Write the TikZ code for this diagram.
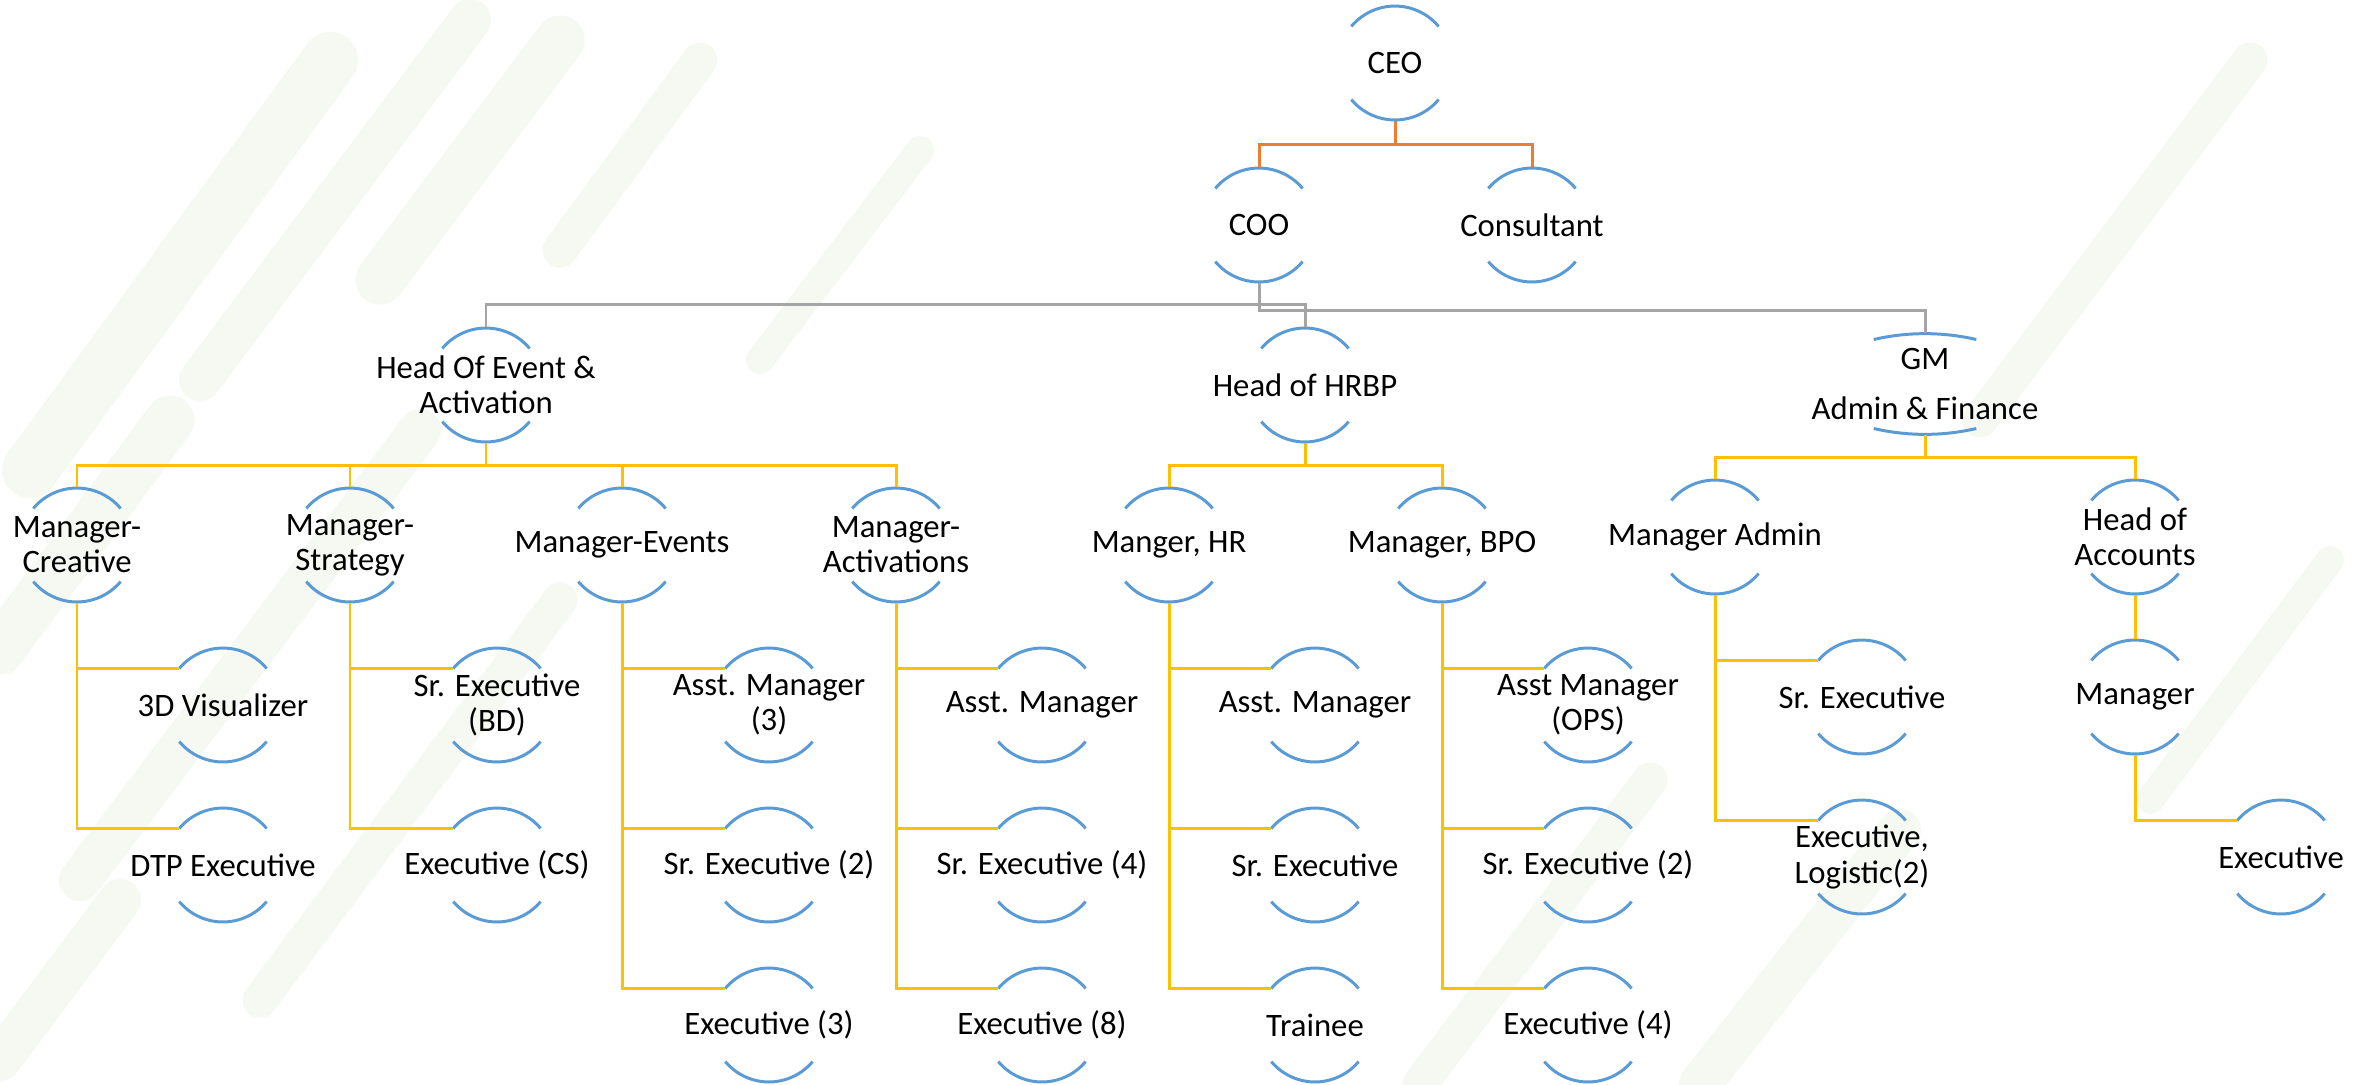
\documentclass[tikz,border=0pt]{standalone}
\usepackage{fontspec}
\setmainfont{Carlito}
\usepackage{xcolor}
\usepackage{tikz}

\definecolor{ringblue}{HTML}{5B9BD5}
\definecolor{ceoorange}{HTML}{ED7D31}
\definecolor{coogrey}{HTML}{A5A5A5}
\definecolor{deptyellow}{HTML}{FFC000}
\definecolor{bgtint}{HTML}{F6F9F2}

\tikzset{
	post/.style={align=center, inner sep=0pt, minimum height=1.14cm, font=\fontsize{9.3}{10}\selectfont},
	ring/.style={ringblue, line width=0.85pt},
	ceoline/.style={ceoorange, line width=0.85pt},
	cooline/.style={coogrey, line width=0.85pt},
	deptline/.style={deptyellow, line width=0.85pt}
}

\begin{document}
\begin{tikzpicture}[x=0.01cm,y=-0.01cm]
	\useasboundingbox (0,0) rectangle (2369,1084);
	
	% faint stripes in the background
	\foreach \xa/\ya/\xb/\yb/\w in {30/470/330/60/16pt, 200/380/470/20/12pt, 380/280/560/40/14pt, 560/250/700/60/10pt, 0/650/170/420/14pt, 80/880/420/430/12pt, 260/1000/560/600/10pt, 0/1060/120/900/12pt, 760/360/920/150/8pt, 1980/420/2250/60/10pt, 1700/1084/1900/830/12pt, 1420/1084/1650/780/10pt, 2150/800/2330/560/8pt}{
		\draw[bgtint, line width=\w, line cap=round] (\xa,\ya) -- (\xb,\yb);
	}
	
	% top
	\node[post] (ceo) at (1395,63) {CEO};
	\node[post] (coo) at (1259,225) {COO};
	\node[post] (cons) at (1532,225) {Consultant};
	
	% heads
	\node[post] (hev) at (486,385) {Head Of Event \&\\Activation};
	\node[post] (hrbp) at (1305,385) {Head of HRBP};
	\node[post, minimum height=1.01cm] (gm) at (1925,384) {GM\\[0.14cm]Admin \& Finance};
	
	% managers
	\node[post] (mcre) at (77,545) {Manager-\\Creative};
	\node[post] (mstr) at (350,545) {Manager-\\Strategy};
	\node[post] (mevt) at (622,545) {Manager-Events};
	\node[post] (mact) at (896,545) {Manager-\\Activations};
	\node[post] (mhr) at (1169,545) {Manger, HR};
	\node[post] (mbpo) at (1442,545) {Manager, BPO};
	\node[post] (madm) at (1715,537) {Manager Admin};
	\node[post] (hacc) at (2135,537) {Head of\\Accounts};
	
	% staff
	\node[post] (vis) at (223,705) {3D Visualizer};
	\node[post] (dtp) at (223,865) {DTP Executive};
	\node[post] (sebd) at (497,705) {Sr. Executive\\(BD)};
	\node[post] (excs) at (497,865) {Executive (CS)};
	\node[post] (amev) at (769,705) {Asst. Manager\\(3)};
	\node[post] (seev) at (769,865) {Sr. Executive (2)};
	\node[post] (exev) at (769,1025) {Executive (3)};
	\node[post] (amac) at (1042,705) {Asst. Manager};
	\node[post] (seac) at (1042,865) {Sr. Executive (4)};
	\node[post] (exac) at (1042,1025) {Executive (8)};
	\node[post] (amhr) at (1315,705) {Asst. Manager};
	\node[post] (sehr) at (1315,865) {Sr. Executive};
	\node[post] (trn) at (1315,1025) {Trainee};
	\node[post] (amops) at (1588,705) {Asst Manager\\(OPS)};
	\node[post] (sebpo) at (1588,865) {Sr. Executive (2)};
	\node[post] (exbpo) at (1588,1025) {Executive (4)};
	\node[post] (sead) at (1862,697) {Sr. Executive};
	\node[post] (exlog) at (1862,857) {Executive,\\Logistic(2)};
	\node[post] (macc) at (2135,697) {Manager};
	\node[post] (exacc) at (2281,857) {Executive};
	
	% arcs round each post
	\foreach \n in {ceo,coo,cons,hev,hrbp,mcre,mstr,mevt,mact,mhr,mbpo,madm,hacc,vis,dtp,sebd,excs,amev,seev,exev,amac,seac,exac,amhr,sehr,trn,amops,sebpo,exbpo,sead,exlog,macc,exacc}{
		\draw[ring] ([shift={(-43.7,-36.6)}]\n.center) arc[start angle=220, end angle=320, radius=57];
		\draw[ring] ([shift={(-43.7,36.6)}]\n.center) arc[start angle=140, end angle=40, radius=57];
	}
	\draw[ring] ([shift={(-51.3,-44.5)}]gm.center) arc[start angle=257, end angle=283, radius=228];
	\draw[ring] ([shift={(-51.3,44.5)}]gm.center) arc[start angle=103, end angle=77, radius=228];
	
	% connectors
	\draw[ceoline] (ceo.south) -- ++(0,24) -| (coo.north);
	\draw[ceoline] (ceo.south) -- ++(0,24) -| (cons.north);
	
	\draw[cooline] (coo.south) -- ++(0,22) -| (hev.north);
	\draw[cooline] (coo.south) -- ++(0,22) -| (hrbp.north);
	\draw[cooline] (coo.south) -- ++(0,28) -| (gm.north);
	
	\foreach \p/\c in {hev/mcre, hev/mstr, hev/mevt, hev/mact, hrbp/mhr, hrbp/mbpo, gm/madm, gm/hacc}{
		\draw[deptline] (\p.south) -- ++(0,22.5) -| (\c.north);
	}
	\draw[deptline] (hacc.south) -- (macc.north);
	
	\foreach \p/\c in {mcre/vis, mcre/dtp, mstr/sebd, mstr/excs, mevt/amev, mevt/seev, mevt/exev, mact/amac, mact/seac, mact/exac, mhr/amhr, mhr/sehr, mhr/trn, mbpo/amops, mbpo/sebpo, mbpo/exbpo, madm/sead, madm/exlog, macc/exacc}{
		\draw[deptline] (\p.south) |- ([shift={(-43.7,-36.6)}]\c.center);
	}
\end{tikzpicture}
\end{document}
